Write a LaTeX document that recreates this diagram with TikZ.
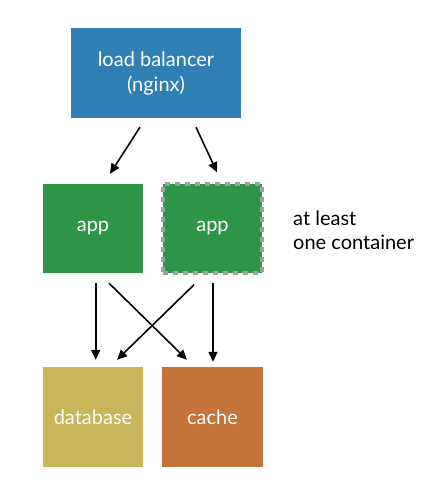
\documentclass[tikz,border=0pt]{standalone}
\usepackage{fontspec}
\setmainfont{Lato}
\usetikzlibrary{arrows.meta}
\definecolor{lbblue}{RGB}{47,127,181}
\definecolor{appgreen}{RGB}{46,148,72}
\definecolor{dbyellow}{RGB}{200,181,90}
\definecolor{cacheorange}{RGB}{196,116,58}
\definecolor{dashgray}{RGB}{160,160,160}
\begin{document}
\begin{tikzpicture}[x=1pt,y=-1pt,
  boxstyle/.style={inner sep=0pt, text=white, font=\fontsize{20}{25}\selectfont, align=center, draw=none},
  conn/.style={-{Triangle[length=10pt,width=9pt]}, line width=1.6pt, black}]
\useasboundingbox[fill=white] (0,0) rectangle (437,501);
\node[boxstyle, fill=lbblue, minimum width=170pt, minimum height=90pt] (lb) at (156,73) {load balancer\\(nginx)};
\node[boxstyle, fill=appgreen, minimum width=100pt, minimum height=89pt] (app1) at (93,228.5) {app};
\node[boxstyle, fill=appgreen, minimum width=99pt, minimum height=89pt, draw=dashgray, line width=3.5pt, dash pattern=on 5pt off 5pt] (app2) at (212.5,228.5) {app};
\node[boxstyle, fill=dbyellow, minimum width=100pt, minimum height=100pt] (db) at (93,417) {database};
\node[boxstyle, fill=cacheorange, minimum width=101pt, minimum height=100pt] (cache) at (212.5,417) {cache};
\node[anchor=west, align=left, font=\fontsize{20}{24}\selectfont, inner sep=0pt] (note) at (293,230) {at least\\one container};
\draw[conn] ([xshift=-16pt,yshift=-9pt]lb.south) -- ([xshift=17pt,yshift=10pt]app1.north);
\draw[conn] ([xshift=40pt,yshift=-9pt]lb.south) -- ([xshift=4.5pt,yshift=10pt]app2.north);
\draw[conn] ([xshift=2.7pt,yshift=-10pt]app1.south) -- ([xshift=2.7pt,yshift=7pt]db.north);
\draw[conn] ([xshift=16pt,yshift=-10pt]app1.south) -- ([xshift=-25.5pt,yshift=7pt]cache.north);
\draw[conn] ([xshift=-18.5pt,yshift=-10pt]app2.south) -- ([xshift=24pt,yshift=7pt]db.north);
\draw[conn] ([xshift=0.5pt,yshift=-8pt]app2.south) -- ([xshift=0.5pt,yshift=5pt]cache.north);
\end{tikzpicture}
\end{document}
